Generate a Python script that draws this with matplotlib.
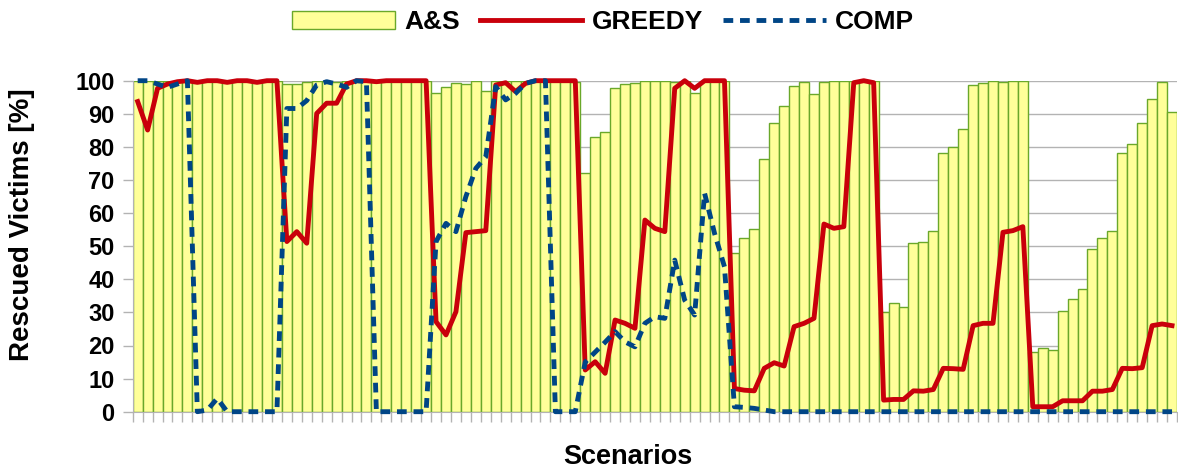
import matplotlib
matplotlib.use("Agg")
import matplotlib.pyplot as plt
import numpy as np

plt.rcParams["font.family"] = ["Liberation Sans", "DejaVu Sans"]
plt.rcParams["font.weight"] = "bold"

# 105 scenarios, 7 groups of 15
as_vals = [100] * 15 + [
    98.9, 98.9, 99.7, 100, 100, 99.7, 100, 100, 100, 100, 100, 100, 100, 100, 100,
    96.2, 98.2, 99.2, 98.9, 100, 96.9, 100, 100, 100, 100, 100, 100, 100, 100, 99.5,
    72, 82.9, 84.4, 97.7, 98.9, 99.4, 100, 100, 100, 99.7, 100, 96.2, 100, 100, 100,
    48, 52.4, 55.1, 76.2, 87.1, 92.3, 98.4, 99.7, 95.9, 99.7, 100, 100, 100, 100, 100,
    30.2, 32.9, 31.7, 50.9, 51.2, 54.7, 78.3, 79.9, 85.4, 98.7, 99.4, 100, 99.7, 100, 100,
    18.1, 19.1, 18.6, 30.4, 33.9, 37.2, 49.2, 52.4, 54.7, 78.3, 81, 87.1, 94.6, 99.7, 90.6,
]

greedy = [
    93.7, 85.1, 97.7, 99, 99.7, 100, 99.5, 100, 100, 99.5, 100, 100, 99.5, 100, 100,
    51.4, 54.4, 50.9, 90.1, 93.2, 93.2, 99, 100, 100, 99.7, 100, 100, 100, 100, 100,
    27.2, 23.2, 30.2, 54.1, 54.4, 54.7, 98.7, 99.4, 96.7, 99.2, 100, 100, 100, 100, 100,
    12.6, 15.1, 11.6, 27.7, 26.7, 25.2, 57.9, 55.4, 54.4, 97.7, 100, 97.7, 100, 100, 100,
    7, 6.5, 6.3, 13.1, 14.8, 13.8, 25.7, 26.7, 28.2, 56.7, 55.4, 55.9, 99.4, 100, 99.4,
    3.5, 3.7, 3.7, 6.3, 6.2, 6.7, 13.1, 13, 12.8, 26, 26.7, 26.7, 54.2, 54.7, 55.9,
    1.5, 1.5, 1.5, 3.3, 3.3, 3.3, 6.2, 6.2, 6.7, 13.1, 13, 13.3, 26, 26.5, 26,
]

comp = [
    100, 100, 99, 98, 99, 100, 0, 0.5, 4, 0, 0, 0, 0, 0, 0,
    91.6, 91.6, 94, 98.7, 99.7, 99, 98, 100, 99.7, 0, 0, 0, 0, 0, 0,
    51.4, 56.9, 54.4, 65, 73.5, 77, 98.2, 94.2, 96.2, 99.2, 100, 100, 0, 0, 0,
    15, 18, 21, 24.2, 21.1, 19.6, 26.7, 28.7, 28.2, 45.8, 33.7, 29.2, 66, 53.9, 43.8,
    1.5, 1.3, 1, 0.5, 0, 0, 0, 0, 0, 0, 0, 0, 0, 0, 0,
] + [0] * 30

x = np.arange(len(as_vals))

fig = plt.figure(figsize=(11.78, 4.70), dpi=100)
ax = fig.add_axes([132.7 / 1178, 1 - 411.7 / 470, (1177 - 132.7) / 1178, (411.7 - 80.7) / 470])

bars = ax.bar(x, as_vals, width=1.0, color="#ffff99", edgecolor="#6aa82a", linewidth=1.0,
              label="A&S", zorder=2)
l_greedy, = ax.plot(x, greedy, color="#c9000b", linewidth=3.5, label="GREEDY",
                    zorder=3, clip_on=False)
l_comp, = ax.plot(x, comp, color="#004586", linewidth=3.5, linestyle=(0, (2, 1.4)),
                  dash_capstyle="butt", label="COMP", zorder=4, clip_on=False)

ax.set_xlim(-0.5, len(x) - 0.5)
ax.set_ylim(0, 100)
ax.set_yticks(np.arange(0, 101, 10))
ax.set_xticks(np.arange(-0.5, len(x), 1.0))
ax.set_xticklabels([])
ax.tick_params(axis="x", length=7, color="#b3b3b3", width=1)
ax.tick_params(axis="y", length=7, color="#b3b3b3", width=1, pad=6, labelsize=17)
for lab in ax.get_yticklabels():
    lab.set_fontweight("bold")

ax.yaxis.grid(True, color="#b3b3b3", linewidth=1.0)
ax.set_axisbelow(True)
for s in ["top", "right"]:
    ax.spines[s].set_visible(False)
for s in ["left", "bottom"]:
    ax.spines[s].set_color("#b3b3b3")

fig.text(22 / 1178, 1 - 225 / 470, "Rescued Victims [%]", rotation=90,
         ha="center", va="center", fontsize=20, fontweight="bold")
fig.text(628 / 1178, 1 - 464 / 470, "Scenarios", ha="center", va="baseline",
         fontsize=19.5, fontweight="bold")

fig.legend([bars, l_greedy, l_comp], ["A&S", "GREEDY", "COMP"],
           loc="center", bbox_to_anchor=(603 / 1178, 1 - 22 / 470), ncol=3,
           frameon=False, handlelength=3.9, handletextpad=0.35,
           columnspacing=0.75, handleheight=0.7,
           prop={"weight": "bold", "size": 19})

fig.savefig("out.png", dpi=100)
plt.close(fig)
